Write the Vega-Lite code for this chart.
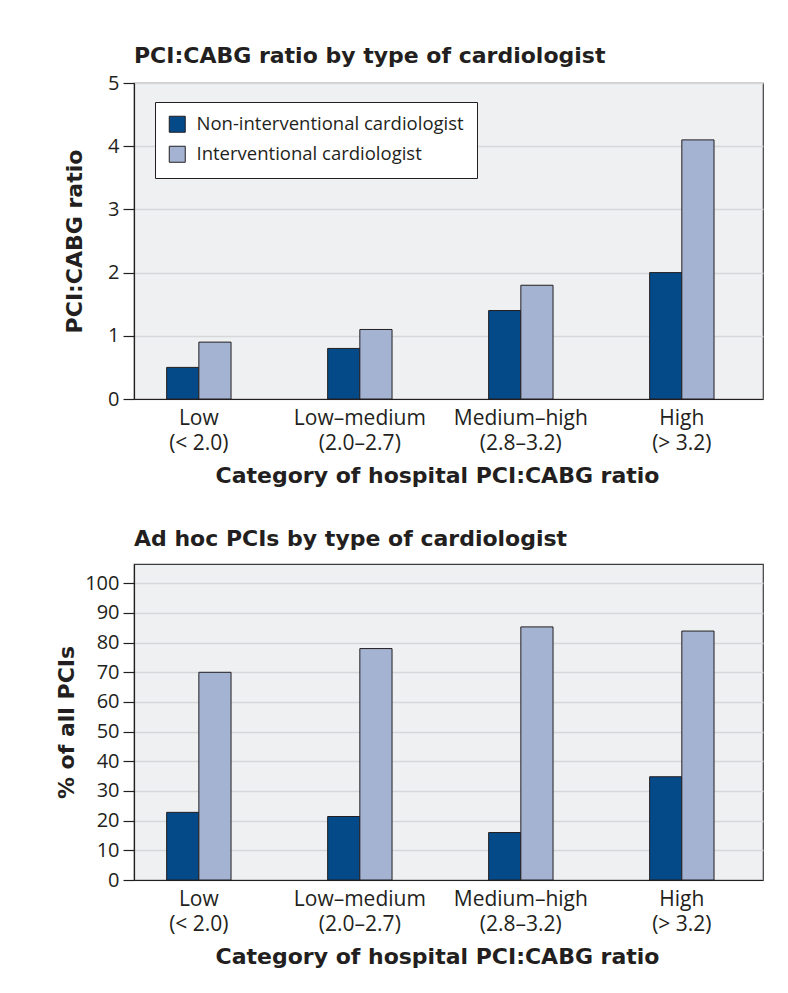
{
  "$schema": "https://vega.github.io/schema/vega-lite/v6.json",
  "background": "white",
  "padding": {"left": 55, "top": 44, "right": 5, "bottom": 5},
  "datasets": {
    "ratio": [
      {"cat": "Low|(< 2.0)", "type": "Non-interventional cardiologist", "value": 0.5},
      {"cat": "Low|(< 2.0)", "type": "Interventional cardiologist", "value": 0.9},
      {"cat": "Low–medium|(2.0–2.7)", "type": "Non-interventional cardiologist", "value": 0.8},
      {"cat": "Low–medium|(2.0–2.7)", "type": "Interventional cardiologist", "value": 1.1},
      {"cat": "Medium–high|(2.8–3.2)", "type": "Non-interventional cardiologist", "value": 1.4},
      {"cat": "Medium–high|(2.8–3.2)", "type": "Interventional cardiologist", "value": 1.8},
      {"cat": "High|(> 3.2)", "type": "Non-interventional cardiologist", "value": 2.0},
      {"cat": "High|(> 3.2)", "type": "Interventional cardiologist", "value": 4.1}
    ],
    "adhoc": [
      {"cat": "Low|(< 2.0)", "type": "Non-interventional cardiologist", "value": 22.8},
      {"cat": "Low|(< 2.0)", "type": "Interventional cardiologist", "value": 70},
      {"cat": "Low–medium|(2.0–2.7)", "type": "Non-interventional cardiologist", "value": 21.4},
      {"cat": "Low–medium|(2.0–2.7)", "type": "Interventional cardiologist", "value": 78},
      {"cat": "Medium–high|(2.8–3.2)", "type": "Non-interventional cardiologist", "value": 16},
      {"cat": "Medium–high|(2.8–3.2)", "type": "Interventional cardiologist", "value": 85.3},
      {"cat": "High|(> 3.2)", "type": "Non-interventional cardiologist", "value": 34.8},
      {"cat": "High|(> 3.2)", "type": "Interventional cardiologist", "value": 83.9}
    ]
  },
  "config": {
    "font": "Open Sans",
    "view": {"fill": "#eff0f2", "stroke": "#3d3d3d", "strokeWidth": 1.2},
    "axis": {
      "labelFont": "Open Sans",
      "titleFont": "DejaVu Sans",
      "labelColor": "#231f20",
      "titleColor": "#231f20",
      "domainColor": "#231f20",
      "domainWidth": 1.2,
      "tickColor": "#231f20",
      "tickWidth": 1.2,
      "titleFontWeight": "bold",
      "titleFontSize": 22
    },
    "title": {"font": "DejaVu Sans", "fontSize": 22, "fontWeight": "bold", "color": "#231f20", "anchor": "start", "frame": "group"},
    "legend": {"labelFont": "Open Sans"}
  },
  "resolve": {"legend": {"color": "independent"}},
  "spacing": 40,
  "vconcat": [
    {
      "data": {"name": "ratio"},
      "title": {"text": "PCI:CABG ratio by type of cardiologist", "offset": 5},
      "width": 629,
      "height": 316,
      "mark": {"type": "bar", "stroke": "#231f20", "strokeWidth": 1},
      "encoding": {
        "x": {
          "field": "cat", "type": "nominal", "sort": null,
          "scale": {"type": "band", "paddingInner": 0.6, "paddingOuter": 0.2535, "align": 0.4},
          "axis": {"title": "Category of hospital PCI:CABG ratio", "labelAngle": 0, "labelExpr": "split(datum.label, '|')", "labelFontSize": 21, "labelLineHeight": 25, "labelPadding": 8, "ticks": false, "titlePadding": 12, "titleX": 303}
        },
        "xOffset": {
          "field": "type", "type": "nominal",
          "sort": ["Non-interventional cardiologist", "Interventional cardiologist"],
          "scale": {"paddingInner": 0, "paddingOuter": 0}
        },
        "y": {
          "field": "value", "type": "quantitative",
          "scale": {"domain": [0, 5], "nice": false},
          "axis": {"title": "PCI:CABG ratio", "values": [0, 1, 2, 3, 4, 5], "labelFontSize": 20, "tickSize": 11, "labelPadding": 4, "gridColor": "#d5d7da", "gridWidth": 1.5, "titlePadding": 21}
        },
        "color": {
          "field": "type", "type": "nominal",
          "sort": ["Non-interventional cardiologist", "Interventional cardiologist"],
          "scale": {"domain": ["Non-interventional cardiologist", "Interventional cardiologist"], "range": ["#044a88", "#a5b3d2"]},
          "legend": {
            "title": null, "orient": "none", "legendX": 21, "legendY": 19,
            "fillColor": "white", "strokeColor": "#231f20", "padding": 13,
            "symbolType": "square", "symbolSize": 256, "symbolStrokeColor": "#231f20", "symbolStrokeWidth": 1, "symbolOpacity": 1,
            "labelFontSize": 18.5, "labelColor": "#231f20", "labelOffset": 10, "rowPadding": 9, "labelLimit": 500
          }
        }
      }
    },
    {
      "data": {"name": "adhoc"},
      "title": {"text": "Ad hoc PCIs by type of cardiologist", "offset": 13},
      "width": 629,
      "height": 316,
      "mark": {"type": "bar", "stroke": "#231f20", "strokeWidth": 1},
      "encoding": {
        "x": {
          "field": "cat", "type": "nominal", "sort": null,
          "scale": {"type": "band", "paddingInner": 0.6, "paddingOuter": 0.2535, "align": 0.4},
          "axis": {"title": "Category of hospital PCI:CABG ratio", "labelAngle": 0, "labelExpr": "split(datum.label, '|')", "labelFontSize": 21, "labelLineHeight": 25, "labelPadding": 8, "ticks": false, "titlePadding": 12, "titleX": 303}
        },
        "xOffset": {
          "field": "type", "type": "nominal",
          "sort": ["Non-interventional cardiologist", "Interventional cardiologist"],
          "scale": {"paddingInner": 0, "paddingOuter": 0}
        },
        "y": {
          "field": "value", "type": "quantitative",
          "scale": {"domain": [0, 106.5], "nice": false},
          "axis": {"title": "% of all PCIs", "values": [0, 10, 20, 30, 40, 50, 60, 70, 80, 90, 100], "labelFontSize": 20, "tickSize": 11, "labelPadding": 4, "gridColor": "#d5d7da", "gridWidth": 1.5, "titlePadding": 6}
        },
        "color": {
          "field": "type", "type": "nominal",
          "scale": {"domain": ["Non-interventional cardiologist", "Interventional cardiologist"], "range": ["#044a88", "#a5b3d2"]},
          "legend": null
        }
      }
    }
  ]
}
